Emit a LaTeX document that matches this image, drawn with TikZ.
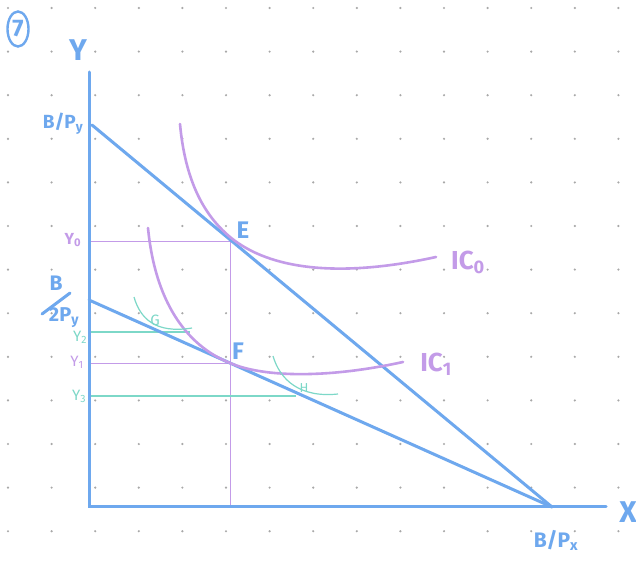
\documentclass[tikz,border=0pt]{standalone}
\usepackage{fontspec}
\setmainfont{Fira Sans}
\usetikzlibrary{shapes.geometric}
\newcommand{\fz}[1]{\fontsize{#1}{#1}\selectfont}
\begin{document}
\begin{tikzpicture}[x=1pt,y=-1pt,
  blu/.style={draw=bluec,line width=3pt,line cap=round},
  pur/.style={draw=purc,line width=2.6pt,line cap=round},
  thinp/.style={draw=purc,line width=1pt},
  thint/.style={draw=tealc,line width=1.2pt},
  lblb/.style={text=bluec,font=\fz{26}\bfseries},
  lblp/.style={text=purc,font=\fz{26}\bfseries},
  lblt/.style={text=tealc,font=\fz{15}},
  lbltp/.style={text=purc,font=\fz{15}}]
\definecolor{bluec}{HTML}{6EA8EE}
\definecolor{purc}{HTML}{C39BE8}
\definecolor{tealc}{HTML}{7DD8C8}
\definecolor{dotc}{HTML}{A8A8A8}
\useasboundingbox[fill=white] (0,0) rectangle (636,567);
% dot grid
\foreach \i in {0,...,14}{\foreach \j in {0,...,12}{
  \fill[dotc] ({8+43.6*\i},{8+43.6*\j}) circle (1.2pt);}}
% coordinates
\coordinate (O) at (89,506);
\coordinate (ytop) at (89,72);
\coordinate (xend) at (606,506);
\coordinate (A1) at (92,125);
\coordinate (A2) at (89,300);
\coordinate (Bx) at (552,507);
\coordinate (E) at (230,237);
\coordinate (F) at (230,363);
\coordinate (y0) at (89,241);
\coordinate (y1) at (89,363);
\coordinate (y2) at (89,332);
\coordinate (y3) at (89,396);
\coordinate (Ebot) at (230,506);
\coordinate (y2e) at (190,332);
\coordinate (y3e) at (296,396);
% thin guide lines
\draw[thinp] (y0) -- (E |- y0) -- (Ebot);
\draw[thinp] (y1) -- (F);
\draw[thint] (y2) -- (y2e);
\draw[thint] (y3) -- (y3e);
% axes
\draw[blu] (ytop) -- (O) -- (xend);
% budget lines
\draw[blu] (A1) -- (Bx);
\draw[blu] (A2) -- (Bx);
% indifference curves
\draw[pur] (180,124) .. controls (186,190) and (210,220) .. (E)
  .. controls (270,270) and (340,278) .. (436,257);
\draw[pur] (148,228) .. controls (155,300) and (185,345) .. (F)
  .. controls (265,378) and (330,378) .. (403,362);
% G and H curves
\draw[thint] (134,297) .. controls (140,318) and (155,334) .. (192,328);
\draw[thint] (273,356) .. controls (280,380) and (300,398) .. (338,394);
% labels
\node[draw=bluec,line width=2.4pt,ellipse,inner sep=0pt,minimum width=21pt,minimum height=35pt,text=bluec,font=\fz{24}\bfseries] (seven) at (18,29) {7};
\node[lblb,font=\fz{30}\bfseries] (Ylab) at (78,50) {Y};
\node[lblb,font=\fz{30}\bfseries] (Xlab) at (628,512) {X};
\node[lblb,font=\fz{19}\bfseries] (BPy) at (63,124) {B/P\textsubscript{y}};
\node[lblb,font=\fz{21}\bfseries] (B2Pya) at (56,283) {B};
\node[lblb,font=\fz{20}\bfseries] (B2Pyb) at (64,318) {2P\textsubscript{y}};
\coordinate (sl1) at (42,314);
\coordinate (sl2) at (70,293);
\draw[blu,line width=3pt] (sl1) -- (sl2);
\node[lblb,font=\fz{21}\bfseries] (BPx) at (556,540) {B/P\textsubscript{x}};
\node[lblb,font=\fz{24}\bfseries] (Elab) at (243,230) {E};
\node[lblb,font=\fz{24}\bfseries] (Flab) at (238,351) {F};
\node[lblp] (IC0) at (468,262) {IC\textsubscript{0}};
\node[lblp] (IC1) at (436,364) {IC\textsubscript{1}};
\node[lbltp,font=\fz{16}\bfseries] (y0l) at (73,240) {Y\textsubscript{0}};
\node[lblt] (y2l) at (80,337) {Y\textsubscript{2}};
\node[lbltp] (y1l) at (77,362) {Y\textsubscript{1}};
\node[lblt] (y3l) at (79,396) {Y\textsubscript{3}};
\node[lblt] (Gl) at (155,320) {G};
\node[lblt,font=\fz{13}] (Hl) at (304,388) {H};
\end{tikzpicture}
\end{document}
